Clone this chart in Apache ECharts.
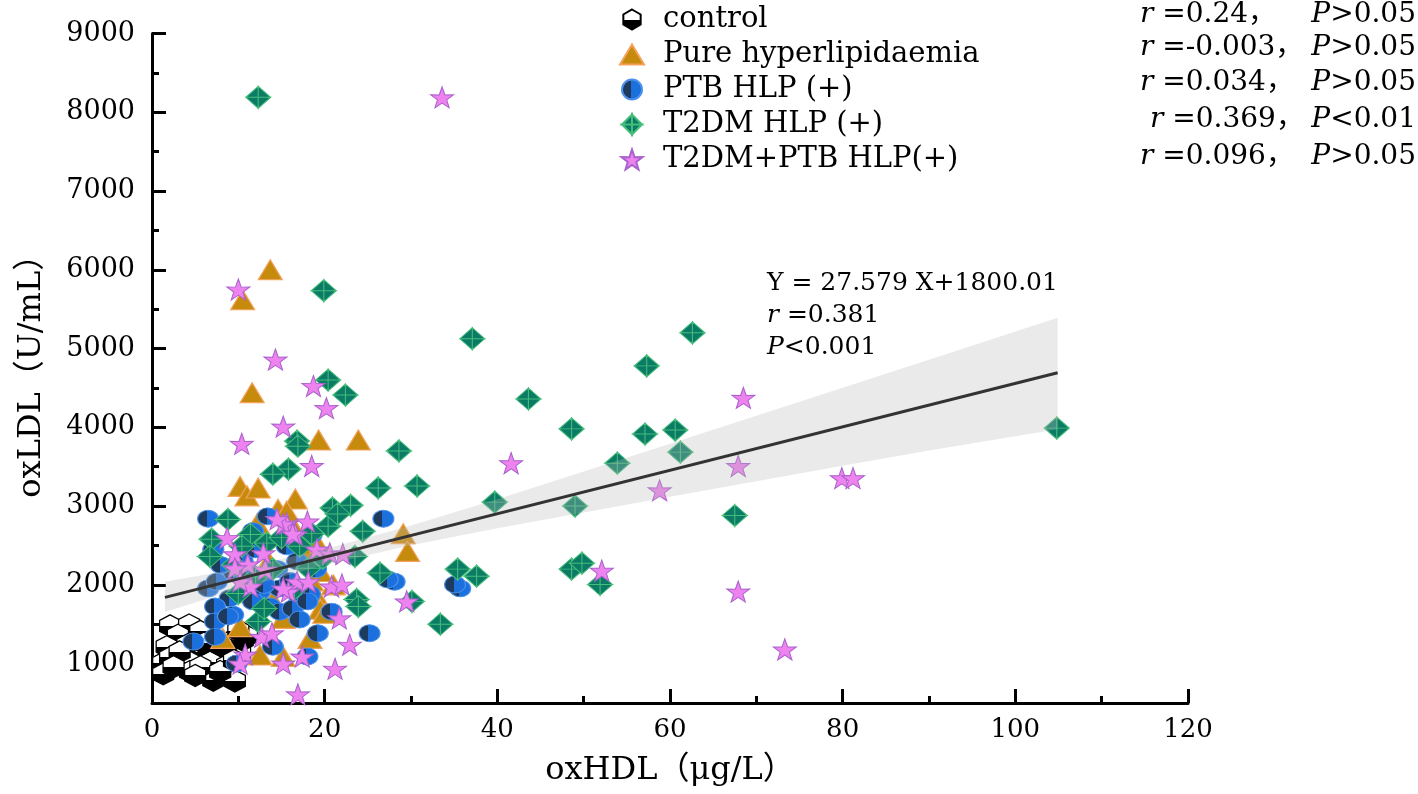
<!DOCTYPE html>
<html>
<head>
<meta charset="utf-8">
<script src="https://cdn.jsdelivr.net/npm/echarts@6/dist/echarts.min.js"></script>
<style>html,body{margin:0;padding:0;background:#fff;}#c{width:1418px;height:794px;}</style>
</head>
<body>
<div id="c"></div>
<script>
// ---------- data ----------
const seriesNames = ['control', 'Pure hyperlipidaemia', 'PTB HLP (+)', 'T2DM HLP (+)', 'T2DM+PTB HLP(+)'];
const statLeft = ['{i|r} =0.24，', '{i|r} =-0.003，', '{i|r} =0.034，', '{i|r} =0.369，', '{i|r} =0.096，'];
const statRight = ['{i|P}>0.05', '{i|P}>0.05', '{i|P}>0.05', '{i|P}<0.01', '{i|P}>0.05'];
const regText = ['Y = 27.579 X+1800.01', '{i|r} =0.381', '{i|P}<0.001'];

const xTicks = [0, 20, 40, 60, 80, 100, 120];
const yTicks = [1000, 2000, 3000, 4000, 5000, 6000, 7000, 8000, 9000];
const yMinorTicks = [1500, 2500, 3500, 4500, 5500, 6500, 7500, 8500];

const controlData = [[2.1,1480],[4.3,1490],[3.0,1360],[5.6,1410],[1.7,1215],[4.1,1240],[6.2,1150],[7.9,1100],[1.3,1010],[2.1,1080],[4.4,1020],[6.7,1020],[8.7,980],[10.2,1150],[1.3,870],[4.4,900],[7.1,790],[9.6,780],[5.6,960],[7.9,900],[9.0,1280],[10.5,1300],[8.0,1230],[11.0,1350],[3.2,1150],[6.0,1260],[9.5,1040],[2.5,960],[5.0,850],[10.0,1420]];

const pureData = [[13.7,6000],[10.5,5620],[11.6,4440],[19.3,3840],[23.9,3840],[10.2,3250],[11.0,3130],[12.3,3230],[16.6,3090],[14.6,2960],[16.0,2805],[12.2,2780],[29.1,2650],[29.6,2425],[19.1,2530],[19.5,2170],[19.2,1830],[19.5,1690],[10.2,1470],[15.2,1575],[18.3,1320],[8.2,1320],[12.5,1110],[15.2,1090],[20.0,1640],[15.6,2935],[17.5,2450],[13.5,2300],[18.5,2050],[10.0,1900],[14.0,1800],[21.0,2000],[12.5,2550]];

const ptbData = [[6.5,2840],[13.4,2870],[26.8,2840],[7.1,2450],[11.7,2680],[15.6,2490],[18.5,2640],[16.8,2300],[6.5,1955],[7.5,2040],[12.5,1915],[14.8,1955],[17.1,1830],[18.3,1880],[9.0,1830],[7.3,1725],[9.4,1620],[11.7,1790],[13.7,1725],[14.8,1660],[16.3,1700],[18.0,1790],[7.3,1535],[8.8,1600],[17.1,1560],[20.8,1660],[19.2,1385],[25.2,1385],[4.8,1280],[7.3,1340],[14.0,1215],[18.0,1090],[9.8,1000],[28.1,2040],[27.3,2070],[35.7,1955],[35.1,2005],[10.5,2300],[12.0,2450],[14.5,2200],[9.5,2150],[16.0,2050],[11.0,2100],[13.0,2000],[19.0,2200],[8.0,2250]];

const t2dmData = [[12.3,8190],[19.9,5735],[37.1,5125],[62.6,5200],[57.3,4780],[20.4,4600],[22.4,4410],[43.6,4360],[48.6,3980],[57.1,3915],[60.6,3965],[61.2,3685],[53.9,3545],[28.6,3700],[16.8,3825],[16.9,3760],[15.8,3470],[14.0,3405],[26.2,3230],[30.7,3255],[39.7,3050],[49.0,3000],[67.5,2880],[104.8,3990],[20.9,2975],[23.0,3010],[20.4,2745],[24.4,2680],[17.1,2490],[23.5,2360],[26.4,2150],[23.7,1815],[30.1,1790],[35.4,2200],[37.6,2110],[48.6,2200],[49.8,2275],[51.9,2005],[33.4,1500],[23.9,1725],[8.8,2830],[6.9,2580],[11.4,2640],[13.3,2530],[6.7,2360],[10.4,2490],[10.0,1890],[12.3,1535],[18.1,2210],[19.8,2340],[15.0,2600],[9.5,2250],[14.0,2200],[12.0,2100],[16.5,1950],[13.0,1700],[18.5,2650],[21.5,2900]];

const t2dmPtbData = [[33.6,8190],[10.0,5750],[14.3,4860],[18.7,4525],[20.2,4245],[15.2,4010],[10.4,3790],[18.5,3510],[41.6,3545],[68.5,4375],[67.9,3510],[58.8,3200],[79.9,3355],[81.2,3355],[52.1,2180],[67.9,1915],[73.3,1180],[29.5,1790],[15.6,2780],[18.0,2805],[16.6,2640],[19.1,2450],[20.6,2400],[22.1,2390],[20.8,1980],[22.0,2005],[16.8,2040],[18.1,2040],[15.8,1915],[21.7,1575],[22.9,1240],[21.2,935],[16.9,610],[17.4,1090],[15.2,1000],[12.7,1340],[13.9,1385],[10.8,1115],[10.2,1000],[8.7,2595],[9.6,2390],[12.9,2400],[11.1,2260],[9.6,2210],[13.1,2195],[15.2,2770],[11.4,1980],[10.2,2045],[15.2,1955],[16.3,2650],[14.5,2835]];

// regression line and confidence band
const regLine = [[1.5,1841],[104.9,4693]];
const bandX = [1.5, 10, 20, 30, 40, 50, 60, 70, 80, 90, 104.9];
const bandUpper = [2040, 2206, 2452, 2752, 3088, 3439, 3790, 4146, 4501, 4857, 5390];
const bandLower = [1655, 1946, 2252, 2502, 2718, 2919, 3120, 3316, 3511, 3707, 3975];

// ---------- styles ----------
const FONT = "'DejaVu Serif', 'Noto Sans CJK SC', serif";
const HEX = 'path://M43.3 0L86.6 25L86.6 75L43.3 100L0 75L0 25Z';
const ELLIPSE = 'path://M0 50A50 50 0 1 1 100 50A50 50 0 1 1 0 50Z';
const DIAMOND = 'path://M50 0L100 50L50 50Z M100 50L50 100L50 50Z M50 100L0 50L50 50Z M0 50L50 0L50 50Z';
const STAR = 'path://M50 0L61.8 35.1L97.6 34.5L69.1 56.7L79.4 90.5L50 70L20.6 90.5L30.9 56.7L2.4 34.5L38.2 35.1Z';

function split(dir, c1, c2, at) {
  return {type:'linear', x:0, y:0, x2: dir==='h'?1:0, y2: dir==='v'?1:0,
    colorStops:[{offset:0,color:c1},{offset:at,color:c1},{offset:at,color:c2},{offset:1,color:c2}]};
}

const STAT_FS = 28;
const richStat = {i:{fontStyle:'italic', fontSize:STAT_FS, fontFamily:FONT, fill:'#000'}};
const richReg = {i:{fontStyle:'italic', fontSize:25, fontFamily:FONT, fill:'#000'}};

const graphics = [];
const rowY = [15, 48, 83, 120, 157];
for (let k = 0; k < 5; k++) {
  graphics.push({type:'text', x: k===3 ? 1150 : 1140, y: rowY[k], silent:true,
    style:{text: statLeft[k], fontSize:STAT_FS, fontFamily:FONT, fill:'#000', verticalAlign:'middle', rich: richStat}});
  graphics.push({type:'text', x: 1416, y: rowY[k], silent:true,
    style:{text: statRight[k], fontSize:STAT_FS, fontFamily:FONT, fill:'#000', align:'right', verticalAlign:'middle', rich: richStat}});
}
const regY = [283, 315, 347];
for (let k = 0; k < 3; k++) {
  graphics.push({type:'text', x: 767, y: regY[k], silent:true,
    style:{text: regText[k], fontSize:25, fontFamily:FONT, fill:'#000', verticalAlign:'middle', rich: richReg}});
}

const chart = echarts.init(document.getElementById('c'), null, {renderer:'canvas'});
const option = {
  animation:false,
  backgroundColor:'#fff',
  textStyle:{fontFamily:FONT},
  grid:{left:152, right:230, top:33.5, bottom:91, containLabel:false},
  legend:{
    orient:'vertical', left:614, top:0, itemWidth:24, itemHeight:20, itemGap:6,
    selectedMode:false, data: seriesNames,
    textStyle:{fontSize:29, fontFamily:FONT, color:'#000', padding:[0,0,0,14]}
  },
  xAxis:{
    type:'value', min:xTicks[0], max:xTicks[xTicks.length-1], interval:20,
    name:'oxHDL（μg/L）', nameLocation:'middle', nameGap:52,
    nameTextStyle:{fontSize:32, fontFamily:FONT, color:'#000'},
    axisLine:{show:true, onZero:false, lineStyle:{color:'#000', width:3}},
    axisTick:{show:true, inside:true, length:14, lineStyle:{color:'#000', width:3}},
    minorTick:{show:true, splitNumber:2, length:7, lineStyle:{color:'#000', width:3}},
    axisLabel:{fontSize:26, fontFamily:FONT, color:'#000', margin:14},
    splitLine:{show:false}, minorSplitLine:{show:false}
  },
  yAxis:[{
    type:'value', min:500, max:9000,
    name:'oxLDL（U/mL）', nameLocation:'middle', nameGap:104,
    nameTextStyle:{fontSize:32, fontFamily:FONT, color:'#000'},
    axisLine:{show:true, onZero:false, lineStyle:{color:'#000', width:3}},
    axisTick:{show:true, inside:true, length:14, lineStyle:{color:'#000', width:3}, customValues:yTicks},
    axisLabel:{fontSize:27, fontFamily:FONT, color:'#000', margin:17, customValues:yTicks,
               formatter:function(v){ return String(v); }},
    splitLine:{show:false}
  },{
    type:'value', min:500, max:9000, position:'left', offset:0,
    axisLine:{show:false},
    axisTick:{show:true, inside:true, length:7, lineStyle:{color:'#000', width:3}, customValues:yMinorTicks},
    axisLabel:{show:false}, splitLine:{show:false}
  }],
  series:[
    {name:seriesNames[0], type:'scatter', data:controlData, symbol:HEX, symbolSize:[21,22],
     itemStyle:{color: split('v','#ffffff','#000000',0.5), borderColor:'#000', borderWidth:1.3, opacity:1}},
    {name:seriesNames[1], type:'scatter', data:pureData, symbol:'triangle', symbolSize:[24,20],
     itemStyle:{color:'#C68A0C', borderColor:'#F2A25A', borderWidth:1.2, opacity:1}},
    {name:seriesNames[2], type:'scatter', data:ptbData, symbol:ELLIPSE, symbolSize:[21,17],
     itemStyle:{color: split('h','#1E3A5C','#1C70DE',0.45), borderColor:'#4A92EA', borderWidth:1, opacity:1}},
    {name:seriesNames[3], type:'scatter', data:t2dmData, symbol:DIAMOND, symbolSize:[25,22],
     itemStyle:{color:'#0B7B66', borderColor:'#45BE7A', borderWidth:1, opacity:1}},
    {name:seriesNames[4], type:'scatter', data:t2dmPtbData, symbol:STAR, symbolSize:[23,21],
     itemStyle:{color:'#EE82EE', borderColor:'#A862CC', borderWidth:1, opacity:1}},
    {name:'band', type:'custom', silent:true, z:3,
     data: bandX.map((x,i)=>[x, bandLower[i], bandUpper[i]]),
     encode:{x:0, y:[1,2]},
     renderItem:function(params, api){
       if (params.dataIndex !== 0) return null;
       const pts = [];
       for (let i = 0; i < bandX.length; i++) pts.push(api.coord([bandX[i], bandUpper[i]]));
       for (let i = bandX.length - 1; i >= 0; i--) pts.push(api.coord([bandX[i], bandLower[i]]));
       return {type:'polygon', shape:{points:pts}, style:{fill:'rgba(185,185,185,0.30)'}};
     }},
    {name:'fit', type:'line', data:regLine, symbol:'none', silent:true, z:4,
     lineStyle:{color:'#333', width:3}}
  ],
  graphic: graphics
};
chart.setOption(option);
</script>
</body>
</html>
